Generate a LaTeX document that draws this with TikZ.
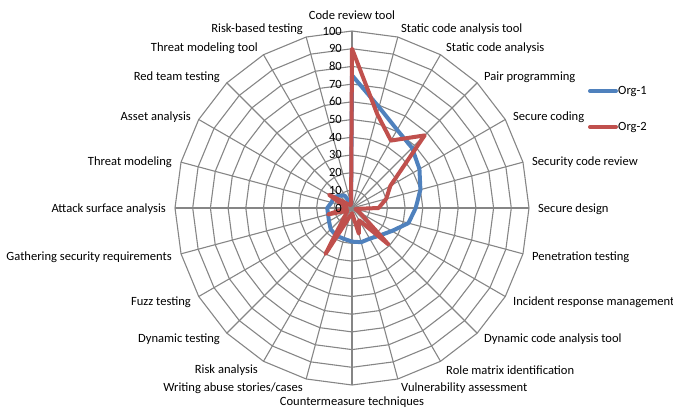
\documentclass[tikz,border=0pt]{standalone}
\usepackage{fontspec}
\setmainfont{Carlito}
\definecolor{gridgray}{HTML}{868686}
\definecolor{orgblue}{HTML}{4F81BD}
\definecolor{orgred}{HTML}{C0504D}
\begin{document}
\begin{tikzpicture}[x=1bp,y=-1bp,
  gridline/.style={draw=gridgray,line width=1.1bp},
  series/.style={line width=4bp,line join=round},
  org1/.style={series,draw=orgblue},
  org2/.style={series,draw=orgred},
  cat/.style={font=\fontsize{12.6}{14}\selectfont,inner sep=0pt},
  tick/.style={font=\fontsize{12.6}{14}\selectfont,inner sep=0pt,anchor=east},
  legline/.style={line width=4bp,line cap=round}]
\useasboundingbox (0,0) rectangle (673,411);

\begin{scope}[shift={(352,208)}]
  % spokes and rings of the radar grid (24 axes, 10 steps of 10)
  \foreach \i in {0,...,23}
    \draw[gridline] (0,0) -- ({\i*15-90}:177);
  \foreach \k in {1,...,10}
    \draw[gridline] (-90:{17.7*\k}) \foreach \i in {1,...,23}{ -- ({\i*15-90}:{17.7*\k}) } -- cycle;

  % Org-1
  \draw[org1] (-90:{75*1.77})
    \foreach \v [count=\i] in {59,51,48,44,40,36,33,26,22,20,20,19,18,18,17,15,14,14,12,12,10,8,2}
      { -- ({\i*15-90}:{\v*1.77}) } -- cycle;
  % Org-2
  \draw[org2] (-90:{90*1.77})
    \foreach \v [count=\i] in {55,44,58,25,20,15,2,5,29,8,15,3,5,30,5,3,14,3,5,15,3,2,2}
      { -- ({\i*15-90}:{\v*1.77}) } -- cycle;
\end{scope}

% value scale
\foreach \k in {0,...,10}
  \node[tick] (t\k) at (342,{208-17.7*\k}) {\the\numexpr\k*10\relax};

% category labels
\node[cat,anchor=center] (l0)  at (352,15)  {Code review tool};
\node[cat,anchor=west]   (l1)  at (401,29)  {Static code analysis tool};
\node[cat,anchor=west]   (l2)  at (446,48)  {Static code analysis};
\node[cat,anchor=west]   (l3)  at (484,77)  {Pair programming};
\node[cat,anchor=west]   (l4)  at (513,117) {Secure coding};
\node[cat,anchor=west]   (l5)  at (532,162) {Security code review};
\node[cat,anchor=west]   (l6)  at (538,209) {Secure design};
\node[cat,anchor=west]   (l7)  at (532,257) {Penetration testing};
\node[cat,anchor=west]   (l8)  at (513,302) {Incident response management};
\node[cat,anchor=west]   (l9)  at (484,339) {Dynamic code analysis tool};
\node[cat,anchor=west]   (l10) at (446,370) {Role matrix identification};
\node[cat,anchor=west]   (l11) at (401,388) {Vulnerability assessment};
\node[cat,anchor=center] (l12) at (352,402) {Countermeasure techniques};
\node[cat,anchor=east]   (l13) at (303,388) {Writing abuse stories/cases};
\node[cat,anchor=east]   (l14) at (258,370) {Risk analysis};
\node[cat,anchor=east]   (l15) at (220,339) {Dynamic testing};
\node[cat,anchor=east]   (l16) at (191,302) {Fuzz testing};
\node[cat,anchor=east]   (l17) at (172,257) {Gathering security requirements};
\node[cat,anchor=east]   (l18) at (166,209) {Attack surface analysis};
\node[cat,anchor=east]   (l19) at (172,162) {Threat modeling};
\node[cat,anchor=east]   (l20) at (191,117) {Asset analysis};
\node[cat,anchor=east]   (l21) at (220,77)  {Red team testing};
\node[cat,anchor=east]   (l22) at (258,48)  {Threat modeling tool};
\node[cat,anchor=east]   (l23) at (303,29)  {Risk-based testing};

% legend
\coordinate (b1) at (590,91);  \coordinate (b2) at (616,91);
\coordinate (r1) at (590,127); \coordinate (r2) at (616,127);
\draw[legline,orgblue] (b1) -- (b2);
\draw[legline,orgred]  (r1) -- (r2);
\node[cat,anchor=west] (k1) at (618,91)  {Org-1};
\node[cat,anchor=west] (k2) at (618,127) {Org-2};
\end{tikzpicture}
\end{document}
